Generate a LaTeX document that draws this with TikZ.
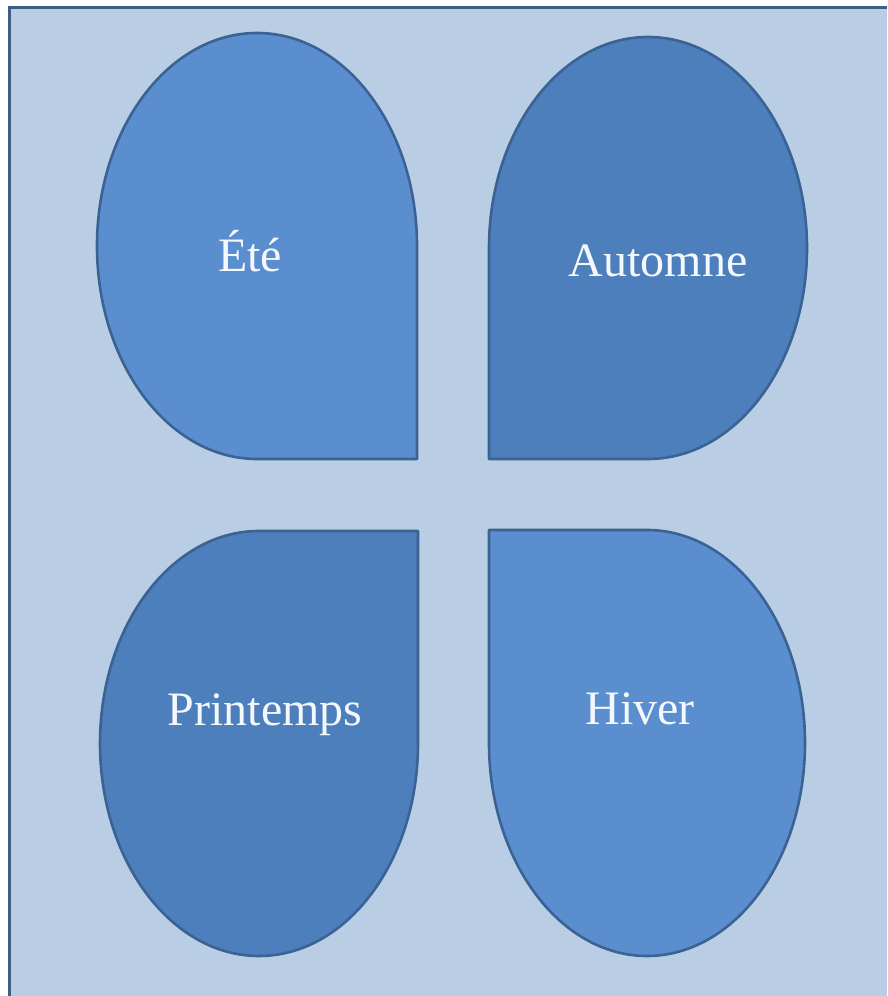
\documentclass[tikz,border=0pt]{standalone}
\usepackage{fontspec}
\setmainfont{Liberation Serif}
\definecolor{bgc}{HTML}{B9CDE5}
\definecolor{framec}{HTML}{3F5E86}
\definecolor{lightc}{HTML}{5A8ECE}
\definecolor{darkc}{HTML}{4D7FBC}
\definecolor{edgec}{HTML}{3A6393}
\definecolor{txtc}{HTML}{F4F7FC}
\tikzset{
  drop/.style={draw=edgec, line width=2.6pt, line join=round},
  lightdrop/.style={drop, fill=lightc},
  darkdrop/.style={drop, fill=darkc},
  season/.style={text=txtc, font=\fontsize{48}{52}\selectfont, anchor=base, inner sep=0pt}
}
\begin{document}
\begin{tikzpicture}[x=1pt,y=1pt]
\useasboundingbox (0,0) rectangle (887,996);
\fill[white] (0,0) rectangle (887,996);
\fill[bgc] (9,0) rectangle (887,988);
\draw[framec, line width=3.5pt] (9.5,0) -- (9.5,988.5) -- (887,988.5);
% Ete (square corner bottom-right)
\path[lightdrop] (417,750) -- (417,537) -- (257,537)
  arc[start angle=270, end angle=0, x radius=160pt, y radius=213pt] -- cycle;
% Automne (square corner bottom-left)
\path[darkdrop] (489,748) -- (489,537) -- (648,537)
  arc[start angle=-90, end angle=180, x radius=159pt, y radius=211pt] -- cycle;
% Printemps (square corner top-right)
\path[darkdrop] (418,252.5) -- (418,465) -- (259,465)
  arc[start angle=90, end angle=360, x radius=159pt, y radius=212.5pt] -- cycle;
% Hiver (square corner top-left)
\path[lightdrop] (489,253) -- (489,466) -- (647,466)
  arc[start angle=90, end angle=-180, x radius=158pt, y radius=213pt] -- cycle;
\node[season] (ete) at (250,724) {Été};
\node[season] (automne) at (658,719) {Automne};
\node[season] (printemps) at (265,270) {Printemps};
\node[season] (hiver) at (640,271) {Hiver};
\end{tikzpicture}
\end{document}
